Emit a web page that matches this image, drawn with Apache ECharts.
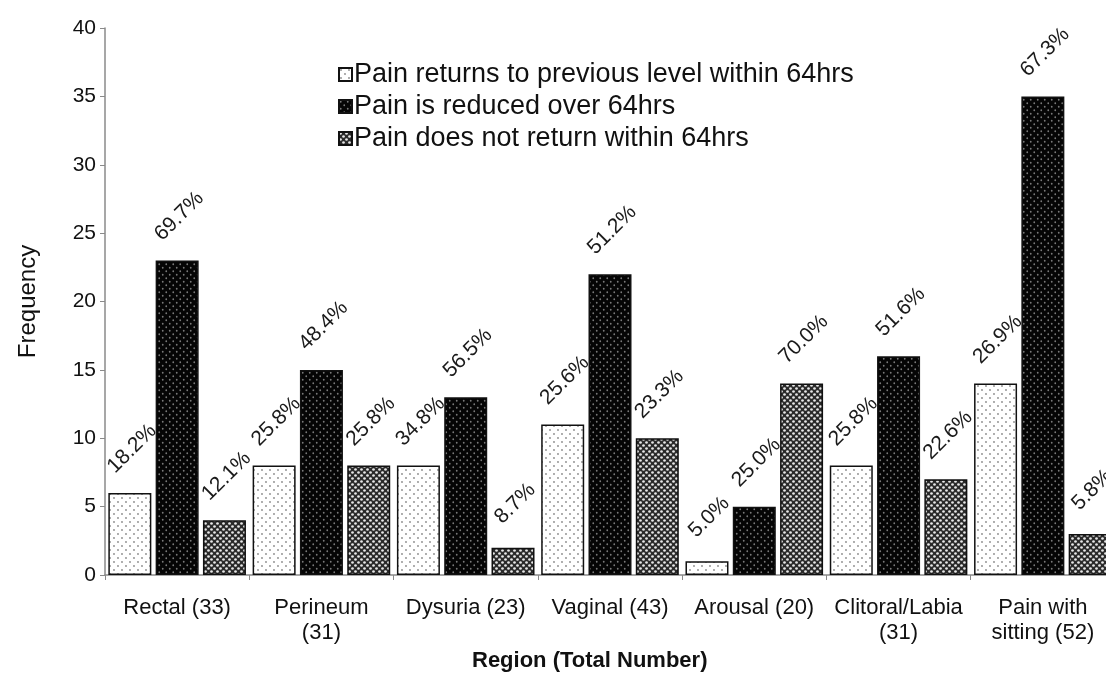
<!DOCTYPE html>
<html>
<head>
<meta charset="utf-8">
<script src="https://cdn.jsdelivr.net/npm/echarts@6/dist/echarts.min.js"></script>
<style>
  html, body { margin: 0; padding: 0; background: #fff; overflow: hidden; }
  /* the plot runs a little past the right edge of the page */
  #chart { width: 1130px; height: 675px; }
</style>
</head>
<body>
<div id="chart"></div>
<script>
// Regions with the number of responses in each
const categories = ['Rectal (33)', 'Perineum\n(31)', 'Dysuria (23)', 'Vaginal (43)',
  'Arousal (20)', 'Clitoral/Labia\n(31)', 'Pain with\nsitting (52)'];

const seriesNames = [
  'Pain returns to previous level within 64hrs',
  'Pain is reduced over 64hrs',
  'Pain does not return within 64hrs'
];

// Frequencies per region
const returnsValues = [6, 8, 8, 11, 1, 8, 14];
const reducedValues = [23, 15, 13, 22, 5, 16, 35];
const noReturnValues = [4, 8, 2, 10, 14, 7, 3];

// Share of each region's total
const returnsPct = ['18.2%', '25.8%', '34.8%', '25.6%', '5.0%', '25.8%', '26.9%'];
const reducedPct = ['69.7%', '48.4%', '56.5%', '51.2%', '25.0%', '51.6%', '67.3%'];
const noReturnPct = ['12.1%', '25.8%', '8.7%', '23.3%', '70.0%', '22.6%', '5.8%'];

const yTicks = { min: 0, max: 40, interval: 5 };

// Pattern tiles for the bar fills
function tile(size, draw) {
  const c = document.createElement('canvas');
  c.width = size; c.height = size;
  draw(c.getContext('2d'), size);
  return c;
}
function dots(g, pts, r) {
  pts.forEach(p => { g.beginPath(); g.arc(p[0], p[1], r, 0, Math.PI * 2); g.fill(); });
}
const lightDots = tile(8, (g, s) => {
  g.fillStyle = '#ffffff'; g.fillRect(0, 0, s, s);
  g.fillStyle = '#8a8a8a';
  dots(g, [[2, 2], [6, 6]], 0.9);
});
const darkDots = tile(7, (g, s) => {
  g.fillStyle = '#050505'; g.fillRect(0, 0, s, s);
  g.fillStyle = '#7a7a7a';
  dots(g, [[1.75, 1.75], [5.25, 5.25]], 0.9);
});
const crossHatch = tile(6, (g, s) => {
  g.fillStyle = '#2a2a2a'; g.fillRect(0, 0, s, s);
  g.fillStyle = '#e8e8e8';
  dots(g, [[1.5, 1.5], [4.5, 4.5]], 1.35);
});

const FONT = '"Liberation Sans", Arial, sans-serif';

function makeSeries(name, values, pcts, pattern) {
  return {
    name: name,
    type: 'bar',
    barWidth: 43,
    barGap: '10%',
    data: values,
    itemStyle: {
      color: { image: pattern, repeat: 'repeat' },
      borderColor: '#111',
      borderWidth: 1.5
    },
    label: {
      show: true,
      position: 'top',
      rotate: 45,
      align: 'center',
      verticalAlign: 'middle',
      distance: 42,
      offset: [3, 0],
      fontFamily: FONT,
      fontSize: 21,
      color: '#1a1a1a',
      formatter: p => pcts[p.dataIndex]
    }
  };
}

const chart = echarts.init(document.getElementById('chart'));
chart.setOption({
  animation: false,
  backgroundColor: '#ffffff',
  textStyle: { fontFamily: FONT },
  grid: { left: 105, top: 28, width: 1010, height: 547, containLabel: false },
  legend: {
    orient: 'vertical',
    left: 333,
    top: 56,
    itemWidth: 13,
    itemHeight: 13,
    itemGap: 5,
    icon: 'rect',
    textStyle: { fontFamily: FONT, fontSize: 27, color: '#111', padding: [0, 0, 0, -3] },
    data: seriesNames
  },
  xAxis: {
    type: 'category',
    data: categories,
    axisLine: { lineStyle: { color: '#8a8a8a', width: 1.5 } },
    axisTick: { show: true, length: 5, lineStyle: { color: '#8a8a8a' } },
    axisLabel: { fontFamily: FONT, fontSize: 22, color: '#111', margin: 20, lineHeight: 25, interval: 0 }
  },
  yAxis: {
    type: 'value',
    min: yTicks.min,
    max: yTicks.max,
    interval: yTicks.interval,
    name: 'Frequency',
    nameLocation: 'middle',
    nameGap: 65,
    nameTextStyle: { fontFamily: FONT, fontSize: 24, color: '#111' },
    splitLine: { show: false },
    axisLine: { show: true, lineStyle: { color: '#8a8a8a', width: 1.5 } },
    axisTick: { show: true, length: 5, lineStyle: { color: '#8a8a8a' } },
    axisLabel: { fontFamily: FONT, fontSize: 21, color: '#111', margin: 9 }
  },
  graphic: [{
    type: 'text',
    left: 472,
    top: 650,
    style: {
      text: 'Region (Total Number)',
      font: 'bold 22px ' + FONT,
      fill: '#111'
    }
  }],
  series: [
    makeSeries(seriesNames[0], returnsValues, returnsPct, lightDots),
    makeSeries(seriesNames[1], reducedValues, reducedPct, darkDots),
    makeSeries(seriesNames[2], noReturnValues, noReturnPct, crossHatch)
  ]
});
</script>
</body>
</html>
